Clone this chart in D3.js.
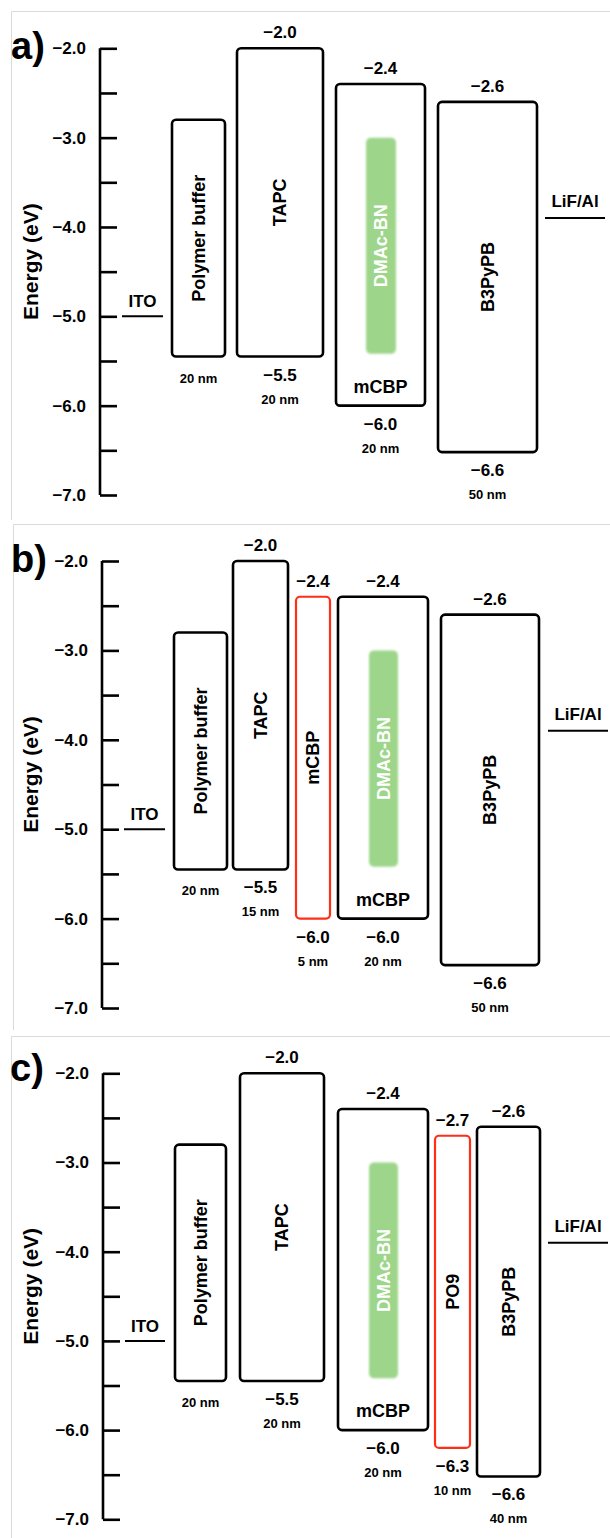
<!DOCTYPE html>
<html><head><meta charset="utf-8">
<script src="https://cdn.jsdelivr.net/npm/d3@7"></script>
<style>
html,body{margin:0;padding:0;background:#fff;}
svg{display:block;font-family:"Liberation Sans",Arial,Helvetica,sans-serif;font-weight:bold;}
</style></head><body>
<svg id="chart" width="610" height="1538"></svg>
<script>
// ---------------- data ----------------
const panelLabels = ["a)", "b)", "c)"];
const majorTicks = [-2.0, -3.0, -4.0, -5.0, -6.0, -7.0];
const majorTickLabels = ["−2.0", "−3.0", "−4.0", "−5.0", "−6.0", "−7.0"];
const allTicks = [-2.0, -2.5, -3.0, -3.5, -4.0, -4.5, -5.0, -5.5, -6.0, -6.5, -7.0];
const axisTitle = "Energy (eV)";
const electrodeNames = ["ITO", "LiF/Al"];
const electrodeLevels = [-5.0, -3.9];
const emitterName = "DMAc-BN";
const emitterLevels = [-3.0, -5.42];
const hostName = "mCBP";

// panel a
const layersA = ["Polymer buffer", "TAPC", "mCBP", "B3PyPB"];
const lumoA = [-2.8, -2.0, -2.4, -2.6];
const homoA = [-5.45, -5.45, -6.0, -6.52];
const lumoTextA = ["", "−2.0", "−2.4", "−2.6"];
const homoTextA = ["", "−5.5", "−6.0", "−6.6"];
const thicknessA = ["20 nm", "20 nm", "20 nm", "50 nm"];

// panel b
const layersB = ["Polymer buffer", "TAPC", "mCBP", "mCBP", "B3PyPB"];
const lumoB = [-2.8, -2.0, -2.4, -2.4, -2.6];
const homoB = [-5.45, -5.45, -6.0, -6.0, -6.52];
const lumoTextB = ["", "−2.0", "−2.4", "−2.4", "−2.6"];
const homoTextB = ["", "−5.5", "−6.0", "−6.0", "−6.6"];
const thicknessB = ["20 nm", "15 nm", "5 nm", "20 nm", "50 nm"];

// panel c
const layersC = ["Polymer buffer", "TAPC", "mCBP", "PO9", "B3PyPB"];
const lumoC = [-2.8, -2.0, -2.4, -2.7, -2.6];
const homoC = [-5.45, -5.45, -6.0, -6.2, -6.52];
const lumoTextC = ["", "−2.0", "−2.4", "−2.7", "−2.6"];
const homoTextC = ["", "−5.5", "−6.0", "−6.3", "−6.6"];
const thicknessC = ["20 nm", "20 nm", "20 nm", "10 nm", "40 nm"];

// ---------------- layout (positions & styles) ----------------
const layouts = [
  { axisX: 100, yTop: 48.3, yBottom: 495, letterX: 11, letterY: 59,
    border: "M11.5,520 V11.5 H610",
    slots: [[172,225],[237,323],[336,425],[438,537]],
    kinds: ["plain","plain","host","plain"],
    emitterX: [366,396], itoX: [122,163], lifX: [545,605] },
  { axisX: 102, yTop: 561, yBottom: 1008, letterX: 11, letterY: 572,
    border: "M13.5,1030 V524.5 H610",
    slots: [[174,227],[233,288],[296,330],[338,428],[441,539]],
    kinds: ["plain","plain","red","host","plain"],
    emitterX: [369,398], itoX: [124,165], lifX: [548,608] },
  { axisX: 103, yTop: 1073.3, yBottom: 1519.3, letterX: 10, letterY: 1081,
    border: "M11.5,1538 V1036.5 H610",
    slots: [[175,226],[240,324],[338,428],[435,470],[477,540]],
    kinds: ["plain","plain","host","red","plain"],
    emitterX: [369,398], itoX: [125,165], lifX: [548,608] }
];
const panelsData = [
  {layers: layersA, lumo: lumoA, homo: homoA, lumoText: lumoTextA, homoText: homoTextA, thick: thicknessA},
  {layers: layersB, lumo: lumoB, homo: homoB, lumoText: lumoTextB, homoText: homoTextB, thick: thicknessB},
  {layers: layersC, lumo: lumoC, homo: homoC, lumoText: lumoTextC, homoText: homoTextC, thick: thicknessC}
];

const RED = "#ff2e17";
const GREEN = "#9dd68a";

const svg = d3.select("#chart");
svg.append("rect").attr("width", 610).attr("height", 1538).attr("fill", "#fff");
const defs = svg.append("defs");
defs.append("filter").attr("id", "soft").attr("x", "-30%").attr("y", "-10%").attr("width", "160%").attr("height", "120%")
  .append("feGaussianBlur").attr("stdDeviation", 1.3);

panelsData.forEach((pd, pi) => {
  const L = layouts[pi];
  const y = d3.scaleLinear().domain([-2, -7]).range([L.yTop, L.yBottom]);
  const x = d3.scaleLinear().domain([0, 610]).range([0, 610]);
  const g = svg.append("g");

  // panel frame
  g.append("path").attr("d", L.border).attr("fill", "none").attr("stroke", "#dadada").attr("stroke-width", 1);

  // panel letter
  g.append("text").attr("x", L.letterX).attr("y", L.letterY)
    .attr("font-size", 38).attr("fill", "#000").text(panelLabels[pi]);

  // axis ticks (right side)
  const axR = d3.axisRight(y).tickValues(allTicks).tickSize(17).tickSizeOuter(0).tickFormat("");
  const ga = g.append("g").attr("transform", `translate(${L.axisX},0)`).call(axR);
  ga.selectAll("path, line").attr("stroke", "#000").attr("stroke-width", 2.6);
  ga.select(".domain").attr("d", `M0,${y(-2)}V${y(-7)}`);

  // axis labels (left side)
  const axL = d3.axisLeft(y).tickValues(majorTicks).tickSize(0).tickPadding(14)
    .tickFormat((d, i) => majorTickLabels[i]);
  const gl = g.append("g").attr("transform", `translate(${L.axisX},0)`).call(axL);
  gl.select(".domain").remove();
  gl.selectAll("text").attr("font-size", 17).attr("font-family", "Liberation Sans, Arial, sans-serif")
    .attr("font-weight", "bold").attr("fill", "#000");

  // axis title
  g.append("text")
    .attr("transform", `translate(38,${(y(-2) + y(-7)) / 2 - 10}) rotate(-90)`)
    .attr("text-anchor", "middle").attr("font-size", 21).attr("fill", "#000").text(axisTitle);

  // electrodes
  const eX = [L.itoX, L.lifX];
  electrodeNames.forEach((nm, ei) => {
    const yy = y(electrodeLevels[ei]);
    g.append("line").attr("x1", x(eX[ei][0])).attr("x2", x(eX[ei][1]))
      .attr("y1", yy).attr("y2", yy).attr("stroke", "#000").attr("stroke-width", 2);
    g.append("text").attr("x", x((eX[ei][0] + eX[ei][1]) / 2)).attr("y", yy - (ei === 0 ? 9 : 11))
      .attr("text-anchor", "middle").attr("font-size", 17).attr("fill", "#000").text(nm);
  });

  // layers
  pd.layers.forEach((name, li) => {
    const [x0, x1] = L.slots[li];
    const kind = L.kinds[li];
    const top = y(pd.lumo[li]), bot = y(pd.homo[li]);
    const cx = x((x0 + x1) / 2);
    const isRed = kind === "red";
    g.append("rect").attr("x", x(x0)).attr("y", top).attr("width", x(x1) - x(x0)).attr("height", bot - top)
      .attr("rx", 4).attr("fill", "none")
      .attr("stroke", isRed ? RED : "#000").attr("stroke-width", isRed ? 2.2 : 2.6);

    if (kind === "host") {
      const [e0, e1] = L.emitterX;
      const et = y(emitterLevels[0]), eb = y(emitterLevels[1]);
      g.append("rect").attr("x", x(e0)).attr("y", et).attr("width", x(e1) - x(e0)).attr("height", eb - et)
        .attr("rx", 5).attr("fill", GREEN).attr("filter", "url(#soft)");
      g.append("text")
        .attr("transform", `translate(${x((e0 + e1) / 2)},${(et + eb) / 2}) rotate(-90)`)
        .attr("text-anchor", "middle").attr("dy", "0.36em").attr("font-size", 18).attr("fill", "#fff")
        .text(emitterName);
      g.append("text").attr("x", cx).attr("y", bot - 13).attr("text-anchor", "middle")
        .attr("font-size", 18).attr("fill", "#000").text(hostName);
    } else {
      g.append("text")
        .attr("transform", `translate(${cx},${(top + bot) / 2}) rotate(-90)`)
        .attr("text-anchor", "middle").attr("dy", "0.36em").attr("font-size", 18).attr("fill", "#000")
        .text(name);
    }

    if (pd.lumoText[li]) {
      g.append("text").attr("x", cx).attr("y", top - 10).attr("text-anchor", "middle")
        .attr("font-size", 17).attr("fill", "#000").text(pd.lumoText[li]);
    }
    let nmY = bot + 26;
    if (pd.homoText[li]) {
      g.append("text").attr("x", cx).attr("y", bot + 24).attr("text-anchor", "middle")
        .attr("font-size", 17).attr("fill", "#000").text(pd.homoText[li]);
      nmY = bot + 47;
    }
    g.append("text").attr("x", cx).attr("y", nmY).attr("text-anchor", "middle")
      .attr("font-size", 13).attr("fill", "#000").text(pd.thick[li]);
  });
});
</script>
</body></html>
